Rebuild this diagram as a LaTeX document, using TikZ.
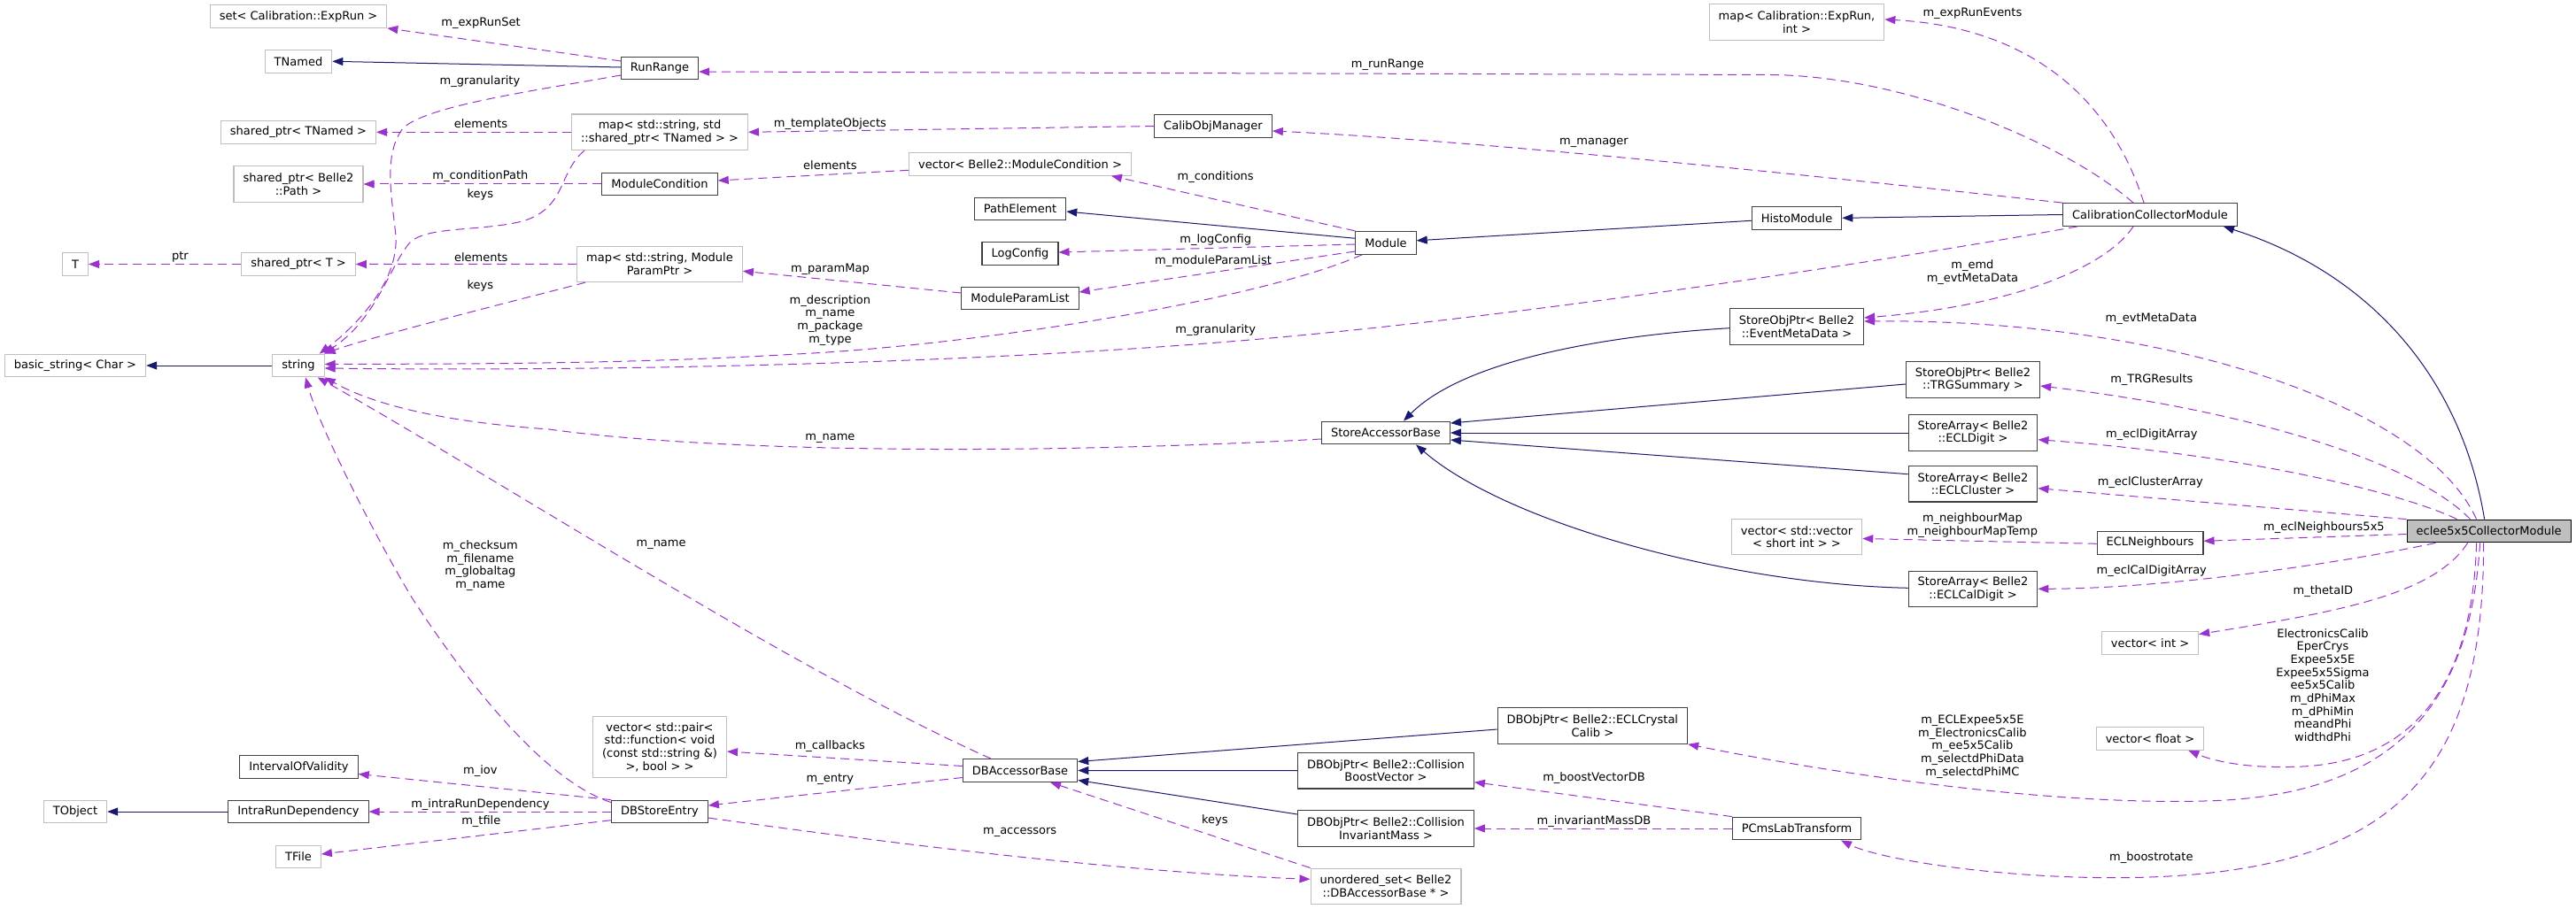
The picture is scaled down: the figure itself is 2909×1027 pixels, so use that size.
\documentclass[tikz,border=0pt]{standalone}
\usepackage{fontspec}
\setmainfont{DejaVu Sans}
\usetikzlibrary{arrows.meta}
\definecolor{edgeuse}{HTML}{9A32CD}
\definecolor{edgeinh}{HTML}{191970}
\definecolor{boxgray}{HTML}{BFBFBF}
\definecolor{boxdark}{HTML}{404040}

\begin{document}
\begin{tikzpicture}[x=1pt, y=-1pt,
  every node/.style={font=\fontsize{13}{14.7}\selectfont},
  cls/.style={draw=boxdark, line width=1.1pt, fill=white, inner xsep=10.5pt, inner ysep=0pt, minimum height=25.7pt, align=center},
  ext/.style={cls, draw=boxgray},
  two/.style={minimum height=40.5pt},
  four/.style={minimum height=69.4pt},
  main/.style={cls, draw=black, fill=boxgray},
  lbl/.style={inner sep=0pt, align=center},
  use/.style={draw=edgeuse, line width=1pt, dash pattern=on 10pt off 6pt, -{Triangle[length=12pt,width=9pt]}},
  inh/.style={draw=edgeinh, line width=1pt, -{Triangle[length=12pt,width=9pt]}}]
\fill[white] (0,0) rectangle (2909,1027);
\useasboundingbox (0,0) rectangle (2909,1027);

\node[ext] (setexp) at (337,18.5) {set< Calibration::ExpRun >};
\node[ext] (tnamed) at (337,69.3) {TNamed};
\node[ext] (sptnamed) at (337,149.3) {shared\_ptr< TNamed >};
\node[ext, two] (sppath) at (337,208) {shared\_ptr< Belle2\\::Path >};
\node[ext] (tt) at (85,298.5) {T};
\node[ext] (spt) at (337,298.5) {shared\_ptr< T >};
\node[ext] (basicstr) at (85,413) {basic\_string< Char >};
\node[ext] (str) at (337,413) {string};
\node[cls] (iov) at (337.5,866.5) {IntervalOfValidity};
\node[ext] (tobject) at (85,917) {TObject};
\node[cls] (intrarun) at (337,917) {IntraRunDependency};
\node[ext] (tfile) at (337,968) {TFile};

\node[cls] (runrange) at (745,77) {RunRange};
\node[ext, two] (maptn) at (745,149.3) {map< std::string, std\\::shared\_ptr< TNamed > >};
\node[cls] (modcond) at (745,208) {ModuleCondition};
\node[ext, two] (mappar) at (745,298.3) {map< std::string, Module\\ParamPtr >};
\node[ext, four] (vecpair) at (745,844) {vector< std::pair<\\std::function< void\\(const std::string \&)\\>, bool > >};
\node[cls] (dbentry) at (745,917) {DBStoreEntry};

\node[cls] (calibobj) at (1370,142.5) {CalibObjManager};
\node[ext] (vecmc) at (1152,185.3) {vector< Belle2::ModuleCondition >};
\node[cls] (pathel) at (1152,236) {PathElement};
\node[cls] (logcfg) at (1152,286.7) {LogConfig};
\node[cls] (mplist) at (1152,337) {ModuleParamList};
\node[cls] (dbacc) at (1152,870.5) {DBAccessorBase};

\node[cls] (module) at (1565,274.3) {Module};
\node[cls] (storeacc) at (1565,489) {StoreAccessorBase};
\node[cls, two] (dbboost) at (1565,870.7) {DBObjPtr< Belle2::Collision\\BoostVector >};
\node[cls, two] (dbmass) at (1565,936) {DBObjPtr< Belle2::Collision\\InvariantMass >};
\node[ext, two] (uset) at (1565,1001.3) {unordered\_set< Belle2\\::DBAccessorBase * >};
\node[cls, two] (dbcrys) at (1798.4,820) {DBObjPtr< Belle2::ECLCrystal\\Calib >};

\node[ext, two] (mapint) at (2029,25) {map< Calibration::ExpRun,\\int >};
\node[cls] (histo) at (2029,246.3) {HistoModule};
\node[cls, two] (emd) at (2029,369) {StoreObjPtr< Belle2\\::EventMetaData >};
\node[ext, two] (vecvec) at (2029,606.5) {vector< std::vector\\< short int > >};
\node[cls] (pcms) at (2029,936) {PCmsLabTransform};

\node[cls, two] (trg) at (2228,429) {StoreObjPtr< Belle2\\::TRGSummary >};
\node[cls, two] (digit) at (2228,489) {StoreArray< Belle2\\::ECLDigit >};
\node[cls, two] (cluster) at (2228,546.7) {StoreArray< Belle2\\::ECLCluster >};
\node[cls, two] (caldigit) at (2228,665.3) {StoreArray< Belle2\\::ECLCalDigit >};

\node[cls] (ccm) at (2428,242.5) {CalibrationCollectorModule};
\node[cls] (neigh) at (2428,613.3) {ECLNeighbours};
\node[ext] (vint) at (2428,726.5) {vector< int >};
\node[ext] (vfloat) at (2428,834.5) {vector< float >};
\node[main] (eclee) at (2810.6,600) {eclee5x5CollectorModule};

\draw[use] ([yshift=8pt]runrange.west) -- (setexp.south east);
\draw[inh] ([yshift=1pt]runrange.west) -- (tnamed.east);
\draw[use] ([yshift=-8pt]runrange.west) .. controls (600,103) and (480,120) .. (455,145) .. controls (432,175) and (443,225) .. (447,267) .. controls (450,320) and (400,370) .. ([xshift=-6pt]str.north east);
\draw[use] (maptn.west) -- (sptnamed.east);
\draw[use] ([xshift=15pt]maptn.south west) .. controls (630,195) and (640,235) .. (590,250) .. controls (540,262) and (480,255) .. (462,275) .. controls (438,305) and (425,360) .. ([xshift=-1pt]str.north east);
\draw[use] (modcond.west) -- (sppath.east);
\draw[use] (mappar.west) -- (spt.east);
\draw[use] (spt.west) -- (tt.east);
\draw[use] ([xshift=10pt]mappar.south west) .. controls (620,330) and (420,380) .. (str.north east);
\draw[inh] (str.west) -- (basicstr.east);

\node[lbl] (lexprunset) at (543,26.7) {m\_expRunSet};
\node[lbl] (lgranrr) at (542,91.7) {m\_granularity};
\node[lbl] (lelemtn) at (543,140) {elements};
\node[lbl] (lcondpath) at (542.4,199.3) {m\_conditionPath};
\node[lbl] (lkeystn) at (542.4,220) {keys};
\node[lbl] (lelemt) at (543.3,290.7) {elements};
\node[lbl] (lptr) at (203.4,290.7) {ptr};
\node[lbl] (lkeyspar) at (542.4,323.3) {keys};

\draw[use] (calibobj.west) -- (maptn.east);
\node[lbl] (ltemplate) at (937.4,140) {m\_templateObjects};
\draw[use] ([yshift=-7pt]vecmc.west) -- ([yshift=4pt]modcond.east);
\node[lbl] (lelemmc) at (937.4,186.7) {elements};
\draw[use] ([yshift=6pt]mplist.west) -- ([yshift=-8pt]mappar.east);
\node[lbl] (lparammap) at (937.4,304) {m\_paramMap};

\draw[use] (module.north west) -- ([xshift=-23pt]vecmc.south east);
\node[lbl] (lconditions) at (1372.7,200) {m\_conditions};
\draw[inh] ([yshift=5pt]module.west) -- ([yshift=-3pt]pathel.east);
\draw[use] ([yshift=-1.7pt]module.west) -- ([yshift=1.7pt]logcfg.east);
\node[lbl] (llogcfg) at (1372.7,270.7) {m\_logConfig};
\draw[use] ([yshift=-9.7pt]module.west) -- ([yshift=7pt]mplist.east);
\node[lbl] (lmplist) at (1370,295) {m\_moduleParamList};
\draw[use] ([xshift=8pt]module.south west) .. controls (1420,340) and (1100,390) .. (900,400) .. controls (700,412) and (500,411) .. ([yshift=1.5pt]str.east);
\node[lbl] (ldescr) at (937.4,361.7) {m\_description\\m\_name\\m\_package\\m\_type};

\draw[inh] (ccm.west) -- (histo.east);
\draw[inh] ([yshift=-3pt]histo.west) -- ([yshift=2.5pt]module.east);
\draw[use] ([xshift=-7pt]ccm.north) .. controls (2380,100) and (2280,30) .. ([yshift=3pt]mapint.east);
\node[lbl] (lexprunev) at (2227.4,15) {m\_expRunEvents};
\draw[use] ([xshift=-19pt]ccm.north) .. controls (2330,160) and (2150,86) .. (2000,84.5) -- ([yshift=-4pt]runrange.east);
\node[lbl] (lrunrange) at (1567,73) {m\_runRange};
\draw[use] (ccm.north west) .. controls (2200,215) and (1700,160) .. ([yshift=-5.5pt]calibobj.east);
\node[lbl] (lmanager) at (1800,161) {m\_manager};
\draw[use] ([xshift=17pt]ccm.south west) .. controls (2100,300) and (1700,360) .. (1400,385) .. controls (1100,410) and (700,420) .. ([yshift=-3pt]str.east);
\node[lbl] (lgranccm) at (1372.7,372.7) {m\_granularity};
\draw[use] ([xshift=-19pt]ccm.south) .. controls (2380,300) and (2280,345) .. ([yshift=10pt]emd.east);
\node[lbl] (lemd) at (2227.4,307.5) {m\_emd\\m\_evtMetaData};

\draw[inh] ([yshift=-1.7pt]emd.west) .. controls (1800,380) and (1650,410) .. ([xshift=20pt]storeacc.north);
\draw[inh] ([yshift=-5pt]trg.west) -- ([yshift=11pt]storeacc.east);
\draw[inh] (digit.west) -- (storeacc.east);
\draw[inh] ([yshift=11pt]cluster.west) -- ([yshift=-8pt]storeacc.east);
\draw[inh] ([yshift=1pt]caldigit.west) .. controls (1950,660) and (1700,590) .. ([xshift=34pt]storeacc.south);
\draw[use] ([yshift=-7pt]storeacc.west) .. controls (1150,515) and (800,510) .. (620,485) .. controls (520,478) and (430,462) .. (str.south east);
\node[lbl] (lnamesab) at (937.4,495) {m\_name};

\draw[inh] ([xshift=-5pt]eclee.north) .. controls (2780,430) and (2680,310) .. ([xshift=-16pt]ccm.south east);
\draw[use] ([xshift=79pt]eclee.north west) .. controls (2740,460) and (2450,360) .. ([yshift=6pt]emd.east);
\node[lbl] (levtmeta) at (2429.3,360) {m\_evtMetaData};
\draw[use] ([xshift=72pt]eclee.north west) .. controls (2730,525) and (2550,465) .. ([yshift=-7pt]trg.east);
\node[lbl] (ltrg) at (2429.8,428.7) {m\_TRGResults};
\draw[use] ([xshift=57pt]eclee.north west) .. controls (2720,560) and (2550,515) .. ([yshift=-7.7pt]digit.east);
\node[lbl] (ldigit) at (2429.8,491) {m\_eclDigitArray};
\draw[use] (eclee.north west) -- ([yshift=-5pt]cluster.east);
\node[lbl] (lcluster) at (2428.3,545) {m\_eclClusterArray};
\draw[use] ([yshift=-3.5pt]eclee.west) -- ([yshift=2pt]neigh.east);
\node[lbl] (lneigh) at (2624.4,595.7) {m\_eclNeighbours5x5};
\draw[use] ([yshift=-1pt]neigh.west) -- ([yshift=-2pt]vecvec.east);
\node[lbl] (lneighmap) at (2227.4,593.7) {m\_neighbourMap\\m\_neighbourMapTemp};
\draw[use] ([xshift=33pt]eclee.south west) .. controls (2650,635) and (2450,665) .. (caldigit.east);
\node[lbl] (lcaldigit) at (2429.8,645) {m\_eclCalDigitArray};
\draw[use] ([xshift=-24pt]eclee.south) .. controls (2750,670) and (2650,690) .. ([yshift=10pt]vint.east);
\node[lbl] (ltheta) at (2623.4,668.3) {m\_thetaID};
\draw[use] ([xshift=-14pt]eclee.south) .. controls (2792,780) and (2720,860) .. (2600,866) .. controls (2540,869) and (2500,860) .. ([xshift=-18pt]vfloat.south east);
\node[lbl] (lfloat) at (2623,774) {ElectronicsCalib\\EperCrys\\Expee5x5E\\Expee5x5Sigma\\ee5x5Calib\\m\_dPhiMax\\m\_dPhiMin\\meandPhi\\widthdPhi};
\draw[use] ([xshift=-10pt]eclee.south) .. controls (2790,780) and (2720,900) .. (2488.8,905) .. controls (2300,910) and (2050,870) .. (dbcrys.south east);
\node[lbl] (lcrys) at (2227.4,843.5) {m\_ECLExpee5x5E\\m\_ElectronicsCalib\\m\_ee5x5Calib\\m\_selectdPhiData\\m\_selectdPhiMC};
\draw[use] ([xshift=-6pt]eclee.south) .. controls (2805,880) and (2700,990) .. (2392,991.7) .. controls (2250,992) and (2120,970) .. ([xshift=50pt]pcms.south);
\node[lbl] (lboost) at (2429.3,968.7) {m\_boostrotate};

\draw[use] (dbentry.north west) -- ([yshift=-8pt]iov.east);
\node[lbl] (liov) at (542.4,870.7) {m\_iov};
\draw[use] (dbentry.west) -- (intrarun.east);
\node[lbl] (lintrarun) at (542.4,908.7) {m\_intraRunDependency};
\draw[use] ([yshift=-9.7pt]dbentry.west) -- ([yshift=3pt]tfile.east);
\node[lbl] (ltfile) at (543.3,928.3) {m\_tfile};
\draw[inh] (intrarun.west) -- (tobject.east);
\draw[use] ([yshift=-3pt]dbentry.north west) .. controls (610,880) and (520,760) .. (465,675) .. controls (420,600) and (360,480) .. ([xshift=8pt]str.south);
\node[lbl] (lchecksum) at (542.4,639) {m\_checksum\\m\_filename\\m\_globaltag\\m\_name};
\draw[use] ([xshift=-33pt]dbacc.north) .. controls (900,760) and (560,540) .. ([xshift=-8pt]str.south east);
\node[lbl] (lnamedb) at (746.6,615) {m\_name};
\draw[use] ([yshift=5pt]dbacc.west) -- ([yshift=-5pt]vecpair.east);
\node[lbl] (lcallbacks) at (937.4,843.3) {m\_callbacks};
\draw[use] ([yshift=-8pt]dbacc.west) -- ([yshift=7pt]dbentry.east);
\node[lbl] (lentry) at (937.4,880) {m\_entry};
\draw[use] ([yshift=-7pt]dbentry.east) .. controls (950,945) and (1250,985) .. ([yshift=8pt]uset.west);
\node[lbl] (laccessors) at (1151.6,940) {m\_accessors};
\draw[use] (uset.north west) -- ([xshift=34pt]dbacc.south);
\node[lbl] (lkeysdb) at (1371.8,926.7) {keys};
\draw[inh] ([yshift=-4pt]dbcrys.west) -- ([yshift=10pt]dbacc.east);
\draw[inh] (dbboost.west) -- (dbacc.east);
\draw[inh] ([yshift=16pt]dbmass.west) -- ([yshift=-11pt]dbacc.east);
\draw[use] (pcms.north west) -- ([yshift=-13pt]dbboost.east);
\node[lbl] (lboostvec) at (1800,878.7) {m\_boostVectorDB};
\draw[use] (pcms.west) -- (dbmass.east);
\node[lbl] (linvmass) at (1800,927.7) {m\_invariantMassDB};
\end{tikzpicture}
\end{document}
